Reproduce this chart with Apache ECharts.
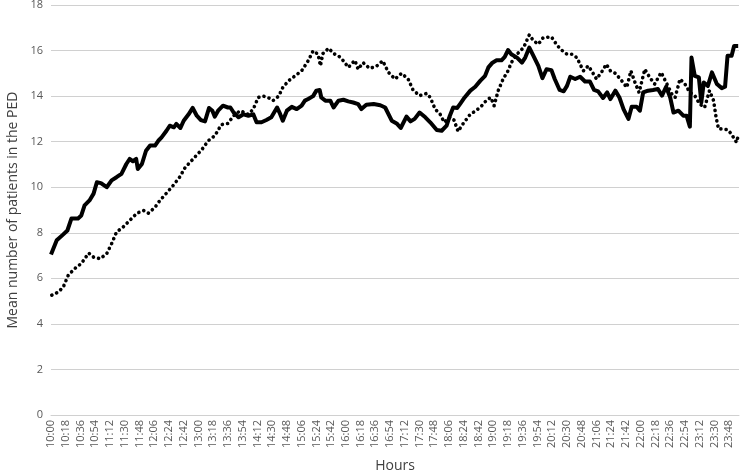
<!DOCTYPE html>
<html>
<head>
<meta charset="utf-8">
<script src="https://cdn.jsdelivr.net/npm/echarts@6/dist/echarts.min.js"></script>
<style>
  html, body { margin: 0; padding: 0; background: #fff; }
  #chart { width: 744px; height: 473px; }
</style>
</head>
<body>
<div id="chart"></div>
<script>
// minutes after 10:00
const solidMinutes = [0, 7, 15, 20, 25, 33, 37, 41, 47, 52, 56, 61, 68, 74, 80, 86, 92, 96, 100, 104, 106, 111, 116, 121, 127, 131, 135, 141, 145, 150, 153, 158, 162, 168, 173, 178, 183, 188, 193, 197, 200, 204, 210, 216, 219, 223, 229, 235, 241, 247, 251, 257, 263, 269, 276, 279, 283, 288, 294, 300, 306, 310, 314, 320, 324, 328, 330, 335, 341, 345, 351, 357, 363, 369, 375, 379, 385, 394, 402, 408, 416, 422, 427, 434, 439, 444, 450, 457, 463, 471, 477, 483, 487, 491, 496, 500, 505, 512, 518, 524, 530, 534, 539, 544, 550, 554, 558, 562, 569, 575, 579, 584, 589, 595, 600, 605, 611, 615, 621, 626, 630, 634, 640, 646, 652, 658, 663, 668, 674, 679, 683, 689, 694, 699, 705, 709, 715, 719, 723, 729, 735, 741, 746, 751, 756, 760, 766, 772, 776, 780, 782, 786, 791, 794, 797, 802, 807, 813, 819, 823, 826, 831, 834, 839];
const solidValues = [7.05, 7.67, 7.93, 8.1, 8.63, 8.63, 8.76, 9.2, 9.42, 9.72, 10.22, 10.18, 10.0, 10.3, 10.44, 10.59, 11.02, 11.24, 11.14, 11.24, 10.8, 11.02, 11.6, 11.83, 11.83, 12.04, 12.19, 12.48, 12.7, 12.63, 12.78, 12.6, 12.92, 13.2, 13.48, 13.14, 12.95, 12.89, 13.48, 13.36, 13.1, 13.36, 13.58, 13.5, 13.5, 13.28, 13.07, 13.2, 13.14, 13.2, 12.85, 12.85, 12.95, 13.07, 13.5, 13.28, 12.92, 13.36, 13.53, 13.43, 13.58, 13.8, 13.87, 14.0, 14.24, 14.27, 13.94, 13.8, 13.8, 13.5, 13.8, 13.84, 13.77, 13.72, 13.65, 13.43, 13.62, 13.65, 13.6, 13.5, 12.92, 12.8, 12.6, 13.1, 12.89, 13.0, 13.28, 13.07, 12.85, 12.51, 12.48, 12.7, 13.14, 13.5, 13.48, 13.68, 13.94, 14.24, 14.41, 14.67, 14.89, 15.26, 15.47, 15.57, 15.57, 15.72, 16.02, 15.84, 15.69, 15.47, 15.69, 16.13, 15.77, 15.33, 14.79, 15.18, 15.14, 14.75, 14.27, 14.21, 14.45, 14.85, 14.75, 14.85, 14.64, 14.64, 14.27, 14.21, 13.92, 14.16, 13.87, 14.24, 13.94, 13.43, 13.0, 13.53, 13.53, 13.36, 14.16, 14.24, 14.27, 14.31, 14.02, 14.41, 13.94, 13.28, 13.36, 13.14, 13.14, 12.66, 15.69, 14.89, 14.82, 13.72, 14.6, 14.45, 15.04, 14.53, 14.35, 14.41, 15.77, 15.77, 16.2, 16.2];

const dottedMinutes = [1, 9, 15, 21, 29, 37, 46, 52, 60, 68, 74, 80, 88, 96, 105, 113, 119, 127, 133, 141, 149, 157, 164, 170, 176, 184, 192, 200, 208, 216, 223, 231, 241, 247, 253, 259, 265, 271, 278, 283, 290, 298, 306, 314, 320, 326, 329, 332, 339, 345, 351, 357, 363, 371, 375, 381, 389, 397, 405, 412, 420, 428, 436, 442, 450, 459, 463, 469, 475, 480, 487, 492, 497, 503, 512, 519, 526, 532, 537, 541, 546, 552, 558, 562, 569, 577, 584, 589, 595, 601, 611, 617, 622, 630, 636, 642, 645, 650, 656, 660, 666, 672, 678, 683, 689, 696, 703, 708, 713, 718, 725, 731, 737, 745, 752, 758, 762, 768, 774, 780, 786, 792, 798, 804, 809, 812, 815, 821, 827, 832, 837, 839];
const dottedValues = [5.26, 5.4, 5.62, 6.13, 6.43, 6.65, 7.11, 6.93, 6.86, 7.08, 7.52, 8.03, 8.25, 8.54, 8.86, 8.98, 8.86, 9.12, 9.42, 9.74, 10.07, 10.44, 10.88, 11.1, 11.34, 11.64, 12.04, 12.26, 12.75, 12.8, 13.14, 13.36, 13.2, 13.43, 13.94, 14.0, 13.94, 13.8, 14.0, 14.38, 14.67, 14.89, 15.11, 15.55, 15.99, 15.84, 15.33, 15.87, 16.1, 15.87, 15.77, 15.55, 15.26, 15.57, 15.18, 15.47, 15.22, 15.3, 15.55, 15.04, 14.75, 15.0, 14.75, 14.27, 14.02, 14.12, 13.94, 13.43, 13.21, 12.85, 13.07, 12.95, 12.45, 12.78, 13.21, 13.36, 13.58, 13.83, 13.94, 13.58, 14.24, 14.75, 15.11, 15.47, 15.84, 16.13, 16.69, 16.43, 16.28, 16.57, 16.6, 16.28, 16.06, 15.84, 15.84, 15.69, 15.47, 15.11, 15.33, 15.11, 14.75, 15.04, 15.4, 15.11, 15.0, 14.71, 14.38, 15.11, 14.6, 14.16, 15.18, 14.82, 14.53, 15.04, 14.53, 14.09, 13.94, 14.75, 14.53, 14.16, 14.02, 13.65, 13.5, 14.24, 13.8, 13.07, 12.56, 12.56, 12.51, 12.26, 11.97, 12.26];

const startHour = 10;
const labelStep = 18; // minutes between x labels
const yMax = 18;
const yStep = 2;

function pairs(xs, ys) {
    return xs.map((x, i) => [x, ys[i]]);
}

function clock(m) {
    const h = startHour + Math.floor(m / 60);
    const mm = m % 60;
    return h + ':' + (mm < 10 ? '0' + mm : mm);
}

var myChart = echarts.init(document.getElementById('chart'));

myChart.setOption({
    animation: false,
    textStyle: { fontFamily: 'Open Sans' },
    grid: { left: 51, right: 5, top: 5, bottom: 58, outerBoundsMode: 'none' },
    xAxis: {
        type: 'value',
        min: 0,
        max: 840,
        interval: labelStep,
        name: 'Hours',
        nameLocation: 'middle',
        nameGap: 44,
        nameTextStyle: { fontSize: 14, color: '#404040' },
        axisLine: { show: true, lineStyle: { color: '#d0d0d0', width: 1 } },
        axisTick: { show: false },
        splitLine: { show: false },
        axisLabel: {
            rotate: 90,
            fontSize: 11,
            color: '#595959',
            margin: 5,
            showMaxLabel: false,
            formatter: v => clock(v)
        }
    },
    yAxis: {
        type: 'value',
        min: 0,
        max: yMax,
        interval: yStep,
        name: 'Mean number of patients in the PED',
        nameLocation: 'middle',
        nameGap: 30,
        nameTextStyle: { fontSize: 14, color: '#404040' },
        axisLine: { show: false },
        axisTick: { show: false },
        splitLine: { lineStyle: { color: '#d0d0d0', width: 1 } },
        axisLabel: { fontSize: 11, color: '#595959', margin: 8 }
    },
    series: [
        {
            name: 'dotted',
            type: 'line',
            showSymbol: false,
            data: pairs(dottedMinutes, dottedValues),
            lineStyle: { color: '#000', width: 3.6, type: [0.1, 5.2], cap: 'round' }
        },
        {
            name: 'solid',
            type: 'line',
            showSymbol: false,
            data: pairs(solidMinutes, solidValues),
            lineStyle: { color: '#000', width: 4, join: 'round' }
        }
    ]
});
</script>
</body>
</html>
